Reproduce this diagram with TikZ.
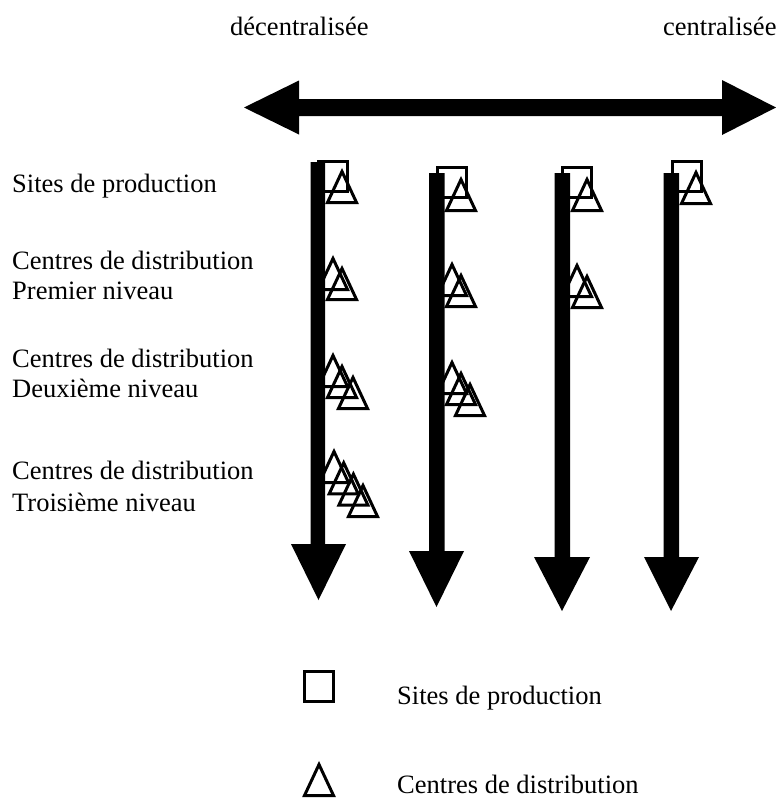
\documentclass[tikz,border=0pt]{standalone}
\usepackage{fontspec}
\setmainfont{Liberation Serif}
\begin{document}
\begin{tikzpicture}[x=1pt, y=-1pt,
  lbl/.style={anchor=base west, inner sep=0pt, font=\fontsize{26.5}{30}\selectfont},
  bar/.style={fill=black, draw=none},
  marker/.style={draw=black, line width=3pt, line join=miter, fill=none},
  tri/.pic={\draw[marker] (0,1.5) -- (-14.5,32.5) -- (14.5,32.5) -- cycle;},
  sq/.pic={\draw[marker] (0,0) rectangle (29,30);}
]
\useasboundingbox (0,0) rectangle (776,798);

% axis: decentralised <-> centralised
\fill[bar] (244,107.5) -- (299,80.5) -- (299,99) -- (722,99) -- (722,80)
  -- (776,107.5) -- (722,135) -- (722,116) -- (299,116) -- (299,134.5) -- cycle;
\node[lbl] (dec) at (230,35) {décentralisée};
\node[lbl] (cen) at (663,35) {centralisée};

% four network structures, one downward arrow each
\fill[bar] (310.5,162) -- (325,162) -- (325,544) -- (346,544) -- (318.5,600) -- (291,544) -- (310.5,544) -- cycle;
\fill[bar] (429,173) -- (444.5,173) -- (444.5,551) -- (464,551) -- (436.5,607) -- (409,551) -- (429,551) -- cycle;
\fill[bar] (554.5,173) -- (570,173) -- (570,557) -- (590,557) -- (562,611) -- (534,557) -- (554.5,557) -- cycle;
\fill[bar] (663.5,173) -- (679,173) -- (679,557) -- (699,557) -- (671,611) -- (644,557) -- (663.5,557) -- cycle;

% level labels
\node[lbl] (l1) at (12,192) {Sites de production};
\node[lbl] (l2a) at (12,269) {Centres de distribution};
\node[lbl] (l2b) at (12,299) {Premier niveau};
\node[lbl] (l3a) at (12,367) {Centres de distribution};
\node[lbl] (l3b) at (12,397) {Deuxième niveau};
\node[lbl] (l4a) at (12,479) {Centres de distribution};
\node[lbl] (l4b) at (12,511) {Troisième niveau};

% column 1
\pic at (318.5,161.5) {sq};
\pic at (342,170) {tri};
\pic at (333,257) {tri};
\pic at (342,267) {tri};
\pic at (333,354) {tri};
\pic at (342,365) {tri};
\pic at (353,376) {tri};
\pic at (334,450) {tri};
\pic at (343.7,461.3) {tri};
\pic at (353.4,472.6) {tri};
\pic at (363,484) {tri};

% column 2
\pic at (437.5,167.5) {sq};
\pic at (461,178) {tri};
\pic at (452,263) {tri};
\pic at (461,274) {tri};
\pic at (452,361) {tri};
\pic at (461,372) {tri};
\pic at (470,383) {tri};

% column 3
\pic at (562.5,167.5) {sq};
\pic at (587,178) {tri};
\pic at (577,264) {tri};
\pic at (587,275) {tri};

% column 4
\pic at (672.5,161.5) {sq};
\pic at (696,171) {tri};

% legend
\pic at (304.5,671.5) {sq};
\node[lbl] (ksq) at (397,704) {Sites de production};
\pic at (319,763) {tri};
\node[lbl] (ktri) at (397,793) {Centres de distribution};
\end{tikzpicture}
\end{document}
